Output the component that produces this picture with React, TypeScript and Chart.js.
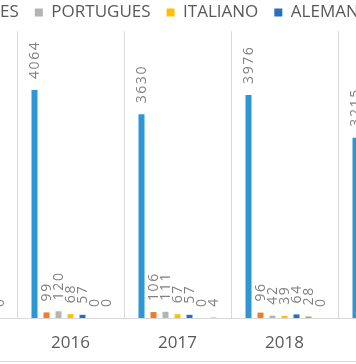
import React, { useEffect, useRef } from "react";
import { Chart, registerables } from "chart.js";

Chart.register(...registerables);

// ---- data ----
const categories = ["2015", "2016", "2017", "2018", "2019"];
const seriesNames = ["INGLES", "FRANCES", "PORTUGUES", "ITALIANO", "ALEMAN", "CHINO", "OTROS"];
const ingles = [null, 4064, 3630, 3976, 3215];
const frances = [null, 99, 106, 96, null];
const portugues = [null, 120, 111, 42, null];
const italiano = [null, 68, 67, 39, null];
const aleman = [null, 57, 57, 64, null];
const chino = [null, 0, 0, 28, null];
const otros = [0, 0, 4, 0, null];
const seriesValues = [ingles, frances, portugues, italiano, aleman, chino, otros];
const seriesColors = ["#2E96D3", "#F07B2A", "#B4B4B4", "#FFC000", "#2A6EC0", "#8FB58A", "#255E91"];
const yMax = 5116;

// ---- layout (view is a crop of a wider chart) ----
const CANVAS_LEFT = -176;
const CANVAS_TOP = -12;
const CANVAS_W = 921;
const CANVAS_H = 374;
const LEFT_GUTTER = 86;
const RIGHT_GUTTER = 300;

const frame = {
  id: "frame",
  afterDraw(chart: any) {
    const ctx = chart.ctx;
    ctx.save();
    ctx.strokeStyle = "#D9D9D9";
    ctx.lineWidth = 1;
    ctx.strokeRect(0.5, 0.5, chart.width - 1, chart.height - 1);
    ctx.restore();
  },
};

const valueLabels = {
  id: "valueLabels",
  afterDatasetsDraw(chart: any) {
    const ctx = chart.ctx;
    ctx.save();
    ctx.font = '14px "Open Sans"';
    ctx.fillStyle = "#808080";
    (ctx as any).letterSpacing = "1.6px";
    ctx.textAlign = "left";
    ctx.textBaseline = "middle";
    chart.data.datasets.forEach((ds: any, i: number) => {
      const meta = chart.getDatasetMeta(i);
      meta.data.forEach((el: any, j: number) => {
        const v = ds.data[j];
        if (v === null || v === undefined) return;
        ctx.save();
        ctx.translate(el.x + 1, el.y - 11);
        ctx.rotate(-Math.PI / 2);
        ctx.fillText(String(v), 0, 0);
        ctx.restore();
      });
    });
    ctx.restore();
  },
};

export default function App() {
  const ref = useRef<HTMLCanvasElement | null>(null);

  useEffect(() => {
    if (!ref.current) return;
    const chart = new Chart(ref.current, {
      type: "bar",
      data: {
        labels: categories,
        datasets: seriesNames.map((name, i) => ({
          label: name,
          data: seriesValues[i],
          backgroundColor: seriesColors[i],
          borderWidth: 0,
          barPercentage: 0.5,
          categoryPercentage: 0.785,
        })),
      },
      options: {
        responsive: false,
        animation: false,
        devicePixelRatio: 1,
        layout: { padding: 0 },
        plugins: {
          legend: {
            position: "top",
            align: "start",
            labels: {
              boxWidth: 8,
              boxHeight: 8,
              padding: 16,
              color: "#595959",
              font: { family: "Open Sans", size: 17 },
            },
          },
          tooltip: { enabled: false },
        },
        scales: {
          x: {
            grid: { color: "#D9D9D9", drawTicks: false, offset: true },
            border: { color: "#D9D9D9" },
            ticks: { padding: 15, color: "#595959", font: { family: "Open Sans", size: 17 } },
            afterFit: (s: any) => {
              s.height = 44;
            },
          },
          y: {
            min: 0,
            max: yMax,
            ticks: { display: false },
            grid: { display: false },
            border: { display: false },
            afterFit: (s: any) => {
              s.width = LEFT_GUTTER;
            },
          },
          yR: {
            position: "right",
            min: 0,
            max: yMax,
            ticks: { display: false },
            grid: { display: false },
            border: { display: false },
            afterFit: (s: any) => {
              s.width = RIGHT_GUTTER;
            },
          },
        },
      } as any,
      plugins: [valueLabels, frame],
    });
    return () => chart.destroy();
  }, []);

  return (
    <div
      style={{
        position: "fixed",
        left: 0,
        top: 0,
        width: 356,
        height: 364,
        overflow: "hidden",
        background: "#ffffff",
      }}
    >
      <canvas
        ref={ref}
        width={CANVAS_W}
        height={CANVAS_H}
        style={{ position: "absolute", left: CANVAS_LEFT, top: CANVAS_TOP, width: CANVAS_W, height: CANVAS_H }}
      />
    </div>
  );
}
